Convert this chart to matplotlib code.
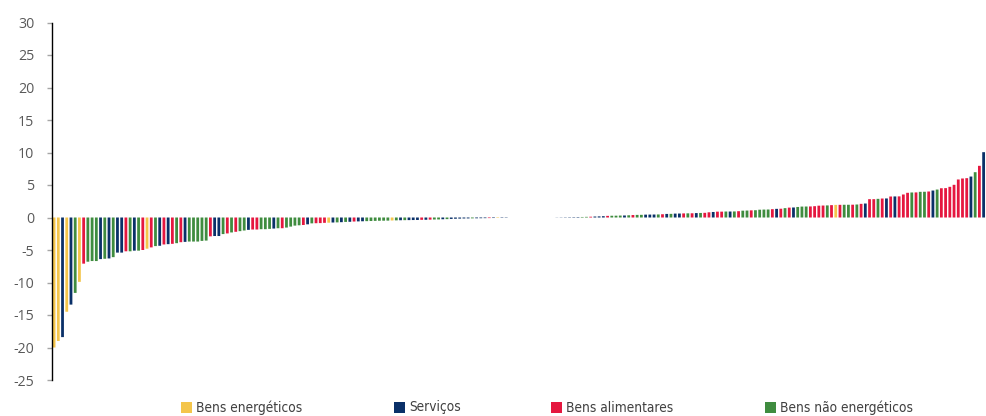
import matplotlib
matplotlib.use("Agg")
import matplotlib.pyplot as plt
from matplotlib.patches import Rectangle
import numpy as np

# Grupos de produtos e respetivas cores
grupos = ["E", "S", "A", "N"]
nomes = ["Bens energéticos", "Serviços", "Bens alimentares", "Bens não energéticos"]
cores = {"E": "#F4C54B", "S": "#0A3068", "A": "#E5173F", "N": "#3F8C3F"}

# Produtos com variação negativa (ordenados)
grupo_neg = ("EESESNE" "ANNNSNSN" "SSANSNA" "EANSASA" "NASNNNNN"
             "ASSNANANN" "SAANNNSNA" "NNNNASN" "AAAESNSN" "SASSNNNNNN"
             "ENSNSSSASA" "NNSNSSSSS" "NSSSASESS")
var_neg = [-20.0, -19.0, -18.4, -14.5, -13.4, -11.6, -9.9,
           -7.1, -6.8, -6.7, -6.7, -6.4, -6.35, -6.3, -6.1,
           -5.4, -5.4, -5.2, -5.2, -5.1, -5.1, -5.0,
           -4.8, -4.6, -4.4, -4.35, -4.15, -4.1, -4.05,
           -3.95, -3.8, -3.75, -3.7, -3.7, -3.7, -3.6, -3.55,
           -2.9, -2.85, -2.85, -2.55, -2.45, -2.3, -2.2, -2.1, -2.0,
           -1.9, -1.85, -1.85, -1.8, -1.8, -1.75, -1.7, -1.65, -1.65,
           -1.55, -1.4, -1.25, -1.2, -1.15, -1.05, -0.9,
           -0.88, -0.86, -0.82, -0.8, -0.77, -0.75, -0.72, -0.68,
           -0.66, -0.62, -0.6, -0.58, -0.56, -0.54, -0.52, -0.5, -0.49, -0.48,
           -0.46, -0.44, -0.42, -0.41, -0.40, -0.39, -0.38, -0.36, -0.35, -0.33,
           -0.31, -0.30, -0.27, -0.25, -0.22, -0.19, -0.17, -0.15, -0.14,
           -0.13, -0.12, -0.11, -0.10, -0.09, -0.08, -0.07, -0.06, -0.05]

# Produtos sem variação
n_nulos = 11

# Produtos com variação positiva (ordenados)
grupo_pos = ("SSSSSSNNASSS" "ANNNSNANNSSS" "NASNSSANASN" "AASAANSNA"
             "NNANNNNASA" "NASNNNAAAA" "NAEANNANAS" "AANASASA"
             "AANANNASNA" "AAAAAASNASA")
var_pos = [0.02, 0.03, 0.04, 0.05, 0.06, 0.07, 0.08, 0.10, 0.12, 0.15, 0.17, 0.20,
           0.25, 0.27, 0.28, 0.30, 0.31, 0.34, 0.38, 0.40, 0.41, 0.44, 0.45, 0.46,
           0.47, 0.50, 0.55, 0.56, 0.60, 0.61, 0.63, 0.64, 0.65, 0.68, 0.70,
           0.72, 0.80, 0.85, 0.90, 0.90, 0.92, 0.92, 0.93, 0.97,
           1.05, 1.07, 1.10, 1.12, 1.20, 1.22, 1.23, 1.28, 1.33, 1.35,
           1.44, 1.52, 1.54, 1.62, 1.68, 1.69, 1.70, 1.74, 1.82, 1.84,
           1.86, 1.90, 1.94, 1.95, 1.96, 1.96, 1.97, 2.00, 2.10, 2.15,
           2.82, 2.82, 2.87, 2.92, 2.93, 3.23, 3.24, 3.25,
           3.54, 3.80, 3.85, 3.86, 3.95, 3.96, 4.00, 4.15, 4.30, 4.50,
           4.52, 4.72, 5.03, 5.85, 6.00, 6.05, 6.30, 6.97, 7.95, 10.05, 10.05]

yticks = list(range(-25, 31, 5))

valores = np.array(var_neg + [0.0] * n_nulos + var_pos)
grupo = list(grupo_neg) + ["N"] * n_nulos + list(grupo_pos)
x = np.arange(len(valores))

W, H = 987, 416
fig = plt.figure(figsize=(W / 100, H / 100), dpi=100)
ax = fig.add_axes([52.3 / W, (H - 380) / H, (W - 52.3) / W, (380 - 22.5) / H])

bars = ax.bar(x, valores, width=0.66, color=[cores[g] for g in grupo], linewidth=0)
for b in bars:
    b.set_snap(False)

ax.set_ylim(-25, 30)
ax.set_xlim(-0.42, 220.8)
ax.set_yticks(yticks)
ax.set_yticklabels([str(v) for v in yticks], fontsize=10.2, color="#595959",
                   family=["Open Sans", "DejaVu Sans"])
ax.tick_params(axis="y", length=3.3, width=1, color="#A6A6A6", pad=9.6)
ax.set_xticks([])
for s in ["top", "right", "bottom"]:
    ax.spines[s].set_visible(False)
ax.spines["left"].set_color("black")
ax.spines["left"].set_linewidth(1.0)

# Legenda na base da figura
leg_x = [181, 394, 551, 765]
for g, nome, px in zip(grupos, nomes, leg_x):
    fig.patches.append(Rectangle((px / W, (H - 413) / H), 11 / W, 11 / H,
                                 transform=fig.transFigure, color=cores[g],
                                 linewidth=0))
    fig.text((px + 15) / W, (H - 407.5) / H, nome, fontsize=9.8, color="#404040",
             va="center", ha="left", fontstretch="condensed",
             family=["DejaVu Sans"])

fig.savefig("out.png", dpi=100)
